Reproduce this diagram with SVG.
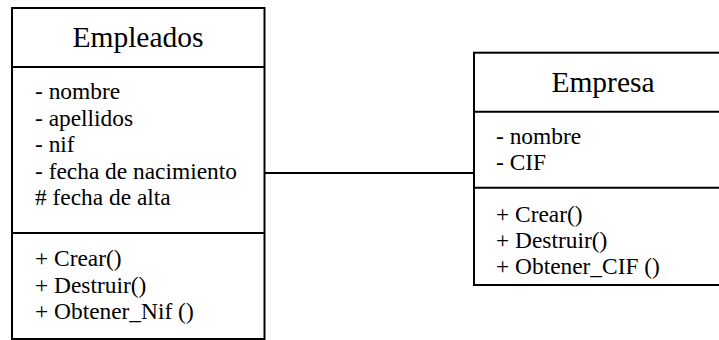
<svg xmlns="http://www.w3.org/2000/svg" width="719" height="340" viewBox="0 0 719 340">
  <style>
    .box { fill: #ffffff; stroke: #000000; stroke-width: 2; }
    .sep { stroke: #000000; stroke-width: 2; }
    .link { stroke: #000000; stroke-width: 2; fill: none; }
  </style>
  <rect x="0" y="0" width="719" height="340" fill="#ffffff"/>

  <!-- association between the two classes -->
  <g id="connectors">
    <line class="link" x1="265" y1="173" x2="474" y2="173"/>
  </g>

  <!-- class Empleados -->
  <g id="empleados">
    <rect class="box" x="12" y="8" width="252.5" height="331"/>
    <line class="sep" x1="12" y1="67" x2="264.5" y2="67"/>
    <line class="sep" x1="12" y1="233" x2="264.5" y2="233"/>
    <text x="138" y="46.5" font-family="'Liberation Serif', serif" font-size="29.5" text-anchor="middle">Empleados</text>
    <text x="35" y="99" font-family="'Liberation Serif', serif" font-size="23.4">- nombre</text>
    <text x="35" y="125.5" font-family="'Liberation Serif', serif" font-size="23.4">- apellidos</text>
    <text x="35" y="152" font-family="'Liberation Serif', serif" font-size="23.4">- nif</text>
    <text x="35" y="178.5" font-family="'Liberation Serif', serif" font-size="23.4">- fecha de nacimiento</text>
    <text x="35" y="205" font-family="'Liberation Serif', serif" font-size="23.4"># fecha de alta</text>
    <text x="35" y="266" font-family="'Liberation Serif', serif" font-size="23.4">+ Crear()</text>
    <text x="35" y="292.5" font-family="'Liberation Serif', serif" font-size="23.4">+ Destruir()</text>
    <text x="35" y="319" font-family="'Liberation Serif', serif" font-size="23.4">+ Obtener_Nif ()</text>
  </g>

  <!-- class Empresa -->
  <g id="empresa">
    <rect class="box" x="474" y="52.7" width="260" height="232.3"/>
    <line class="sep" x1="474" y1="111.7" x2="734" y2="111.7"/>
    <line class="sep" x1="474" y1="187.7" x2="734" y2="187.7"/>
    <text x="603" y="91.7" font-family="'Liberation Serif', serif" font-size="29.5" text-anchor="middle">Empresa</text>
    <text x="496" y="143.5" font-family="'Liberation Serif', serif" font-size="23.4">- nombre</text>
    <text x="496" y="170" font-family="'Liberation Serif', serif" font-size="23.4">- CIF</text>
    <text x="496" y="222" font-family="'Liberation Serif', serif" font-size="23.4">+ Crear()</text>
    <text x="496" y="248" font-family="'Liberation Serif', serif" font-size="23.4">+ Destruir()</text>
    <text x="496" y="274" font-family="'Liberation Serif', serif" font-size="23.4">+ Obtener_CIF ()</text>
  </g>
</svg>
